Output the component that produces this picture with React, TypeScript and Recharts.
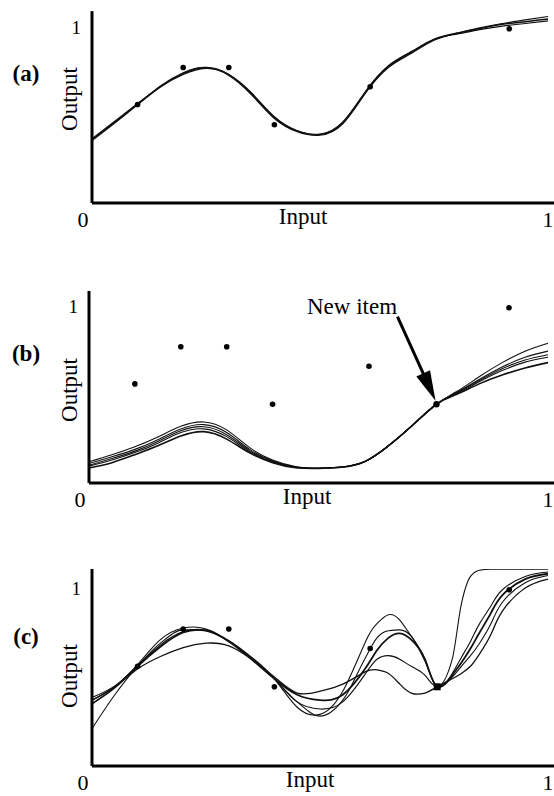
import React from 'react';
import {
  ComposedChart,
  Line,
  Scatter,
  XAxis,
  YAxis,
  ReferenceLine,
} from 'recharts';

// training items (same six in every panel)
const TRAIN_X = [0.1, 0.2, 0.3, 0.4, 0.61, 0.915];
const TRAIN_Y = [0.56, 0.77, 0.77, 0.445, 0.66, 0.99];

// the item learned afterwards
const NEW_ITEM_X = 0.757;
const NEW_ITEM_Y = 0.445;

// (a) nets trained on the original items
const GRID_A = [0, 0.05, 0.1, 0.15, 0.2, 0.25, 0.3, 0.35, 0.4, 0.45, 0.5, 0.55, 0.6, 0.65, 0.7, 0.75, 0.8, 0.85, 0.9, 0.95, 1];
const FIT_A1 = [0.36, 0.46, 0.56, 0.66, 0.735, 0.77, 0.73, 0.62, 0.485, 0.41, 0.39, 0.455, 0.63, 0.775, 0.855, 0.93, 0.965, 0.99, 1.015, 1.03, 1.045];
const FIT_A2 = [0.355, 0.455, 0.56, 0.665, 0.74, 0.77, 0.725, 0.615, 0.48, 0.405, 0.385, 0.45, 0.625, 0.77, 0.85, 0.925, 0.965, 0.995, 1.02, 1.04, 1.06];
const FIT_A3 = [0.365, 0.465, 0.565, 0.66, 0.73, 0.765, 0.73, 0.625, 0.49, 0.41, 0.39, 0.46, 0.635, 0.78, 0.86, 0.93, 0.96, 0.985, 1.005, 1.02, 1.035];

// (b) after training on the new item alone
const GRID_B = [0, 0.05, 0.1, 0.15, 0.2, 0.25, 0.3, 0.35, 0.4, 0.45, 0.5, 0.55, 0.6, 0.65, 0.7, 0.757, 0.8, 0.85, 0.9, 0.95, 1];
const FIT_B1 = [0.12, 0.16, 0.205, 0.26, 0.32, 0.345, 0.3, 0.2, 0.13, 0.093, 0.084, 0.09, 0.12, 0.205, 0.315, 0.445, 0.515, 0.6, 0.68, 0.745, 0.79];
const FIT_B2 = [0.11, 0.148, 0.19, 0.245, 0.305, 0.33, 0.285, 0.19, 0.125, 0.09, 0.083, 0.09, 0.12, 0.205, 0.315, 0.445, 0.51, 0.585, 0.655, 0.71, 0.745];
const FIT_B3 = [0.1, 0.138, 0.18, 0.235, 0.295, 0.318, 0.273, 0.183, 0.121, 0.089, 0.083, 0.09, 0.12, 0.205, 0.315, 0.445, 0.508, 0.578, 0.645, 0.695, 0.725];
const FIT_B4 = [0.095, 0.13, 0.172, 0.225, 0.285, 0.306, 0.262, 0.177, 0.118, 0.088, 0.082, 0.089, 0.12, 0.205, 0.315, 0.445, 0.505, 0.572, 0.635, 0.683, 0.71];
const FIT_B5 = [0.085, 0.115, 0.16, 0.21, 0.265, 0.29, 0.248, 0.17, 0.115, 0.086, 0.082, 0.089, 0.12, 0.205, 0.315, 0.445, 0.5, 0.56, 0.61, 0.65, 0.68];

// (c) new item learned together with pseudo-items
const GRID_C = [0, 0.05, 0.1, 0.15, 0.2, 0.25, 0.3, 0.35, 0.4, 0.45, 0.5, 0.55, 0.6, 0.625, 0.65, 0.675, 0.7, 0.73, 0.757, 0.79, 0.81, 0.83, 0.85, 0.875, 0.9, 0.95, 1];
const FIT_C1 = [0.385, 0.45, 0.57, 0.71, 0.775, 0.77, 0.7, 0.61, 0.49, 0.33, 0.29, 0.42, 0.7, 0.8, 0.85, 0.82, 0.73, 0.6, 0.445, 0.52, 0.61, 0.7, 0.8, 0.9, 0.99, 1.065, 1.09];
const FIT_C2 = [0.37, 0.445, 0.565, 0.69, 0.765, 0.765, 0.7, 0.605, 0.49, 0.36, 0.28, 0.37, 0.61, 0.72, 0.76, 0.765, 0.73, 0.59, 0.445, 0.6, 0.91, 1.065, 1.1, 1.105, 1.105, 1.105, 1.105];
const FIT_C3 = [0.21, 0.4, 0.56, 0.68, 0.755, 0.76, 0.705, 0.61, 0.49, 0.36, 0.32, 0.36, 0.52, 0.6, 0.62, 0.6, 0.56, 0.51, 0.445, 0.5, 0.56, 0.62, 0.69, 0.8, 0.92, 1.03, 1.07];
const FIT_C4 = [0.35, 0.44, 0.56, 0.67, 0.75, 0.76, 0.7, 0.6, 0.49, 0.4, 0.37, 0.4, 0.55, 0.65, 0.72, 0.745, 0.71, 0.6, 0.445, 0.51, 0.58, 0.66, 0.75, 0.86, 0.96, 1.05, 1.08];
const FIT_C5 = [0.37, 0.445, 0.545, 0.615, 0.665, 0.69, 0.675, 0.6, 0.5, 0.41, 0.42, 0.46, 0.53, 0.54, 0.52, 0.46, 0.41, 0.41, 0.445, 0.49, 0.52, 0.56, 0.63, 0.74, 0.87, 1.0, 1.05];

// arrow in (b), data units
const ARROW_FROM = { x: 0.672, y: 0.94 };
const ARROW_TO = { x: 0.755, y: 0.465 };

const FONT = '"Liberation Serif", "Times New Roman", serif';
const CHART_W = 570;
const CHART_H = 250;
const BASE = 203; // x-axis line, local to each panel
const Y_AXIS_W = 30;
const X_AXIS_H = 40;
const X_MAX = 1.03;

const toRows = (grid: number[], series: number[][]) =>
  grid.map((x, i) => {
    const row: Record<string, number> = { x };
    series.forEach((s, k) => {
      row[`s${k}`] = s[i];
    });
    return row;
  });

const trainPoints = TRAIN_X.map((x, i) => ({ x, y: TRAIN_Y[i] }));
const newPoint = [{ x: NEW_ITEM_X, y: NEW_ITEM_Y }];

const XTick = (props: any) => {
  const { x, y, payload } = props;
  return (
    <text
      x={payload.value === 0 ? x - 9 : x}
      y={y}
      dy="0.71em"
      textAnchor="middle"
      fontSize={22}
      fontFamily={FONT}
      fill="#000"
    >
      {payload.value}
    </text>
  );
};

const YTick = (props: any) => {
  const { x, y, payload } = props;
  return (
    <text x={x - 3} y={y} dy="0.35em" textAnchor="end" fontSize={19} fontFamily={FONT} fill="#000">
      {payload.value}
    </text>
  );
};

const roundDot = (props: any) => <circle cx={props.cx} cy={props.cy} r={2.8} fill="#000" />;
const bigDot = (props: any) => <circle cx={props.cx} cy={props.cy} r={3.2} fill="#000" />;
const squareDot = (props: any) => (
  <rect x={props.cx - 3.5} y={props.cy - 3.5} width={7} height={7} fill="#000" />
);

const Arrow = (props: any) => {
  const { x1, y1, x2, y2 } = props;
  const dx = x2 - x1;
  const dy = y2 - y1;
  const len = Math.hypot(dx, dy) || 1;
  const ux = dx / len;
  const uy = dy / len;
  const headLen = 30;
  const headW = 7.5;
  const bx = x2 - ux * headLen;
  const by = y2 - uy * headLen;
  return (
    <g>
      <line x1={x1} y1={y1} x2={bx + ux * 2} y2={by + uy * 2} stroke="#000" strokeWidth={3} />
      <polygon
        points={`${x2},${y2} ${bx - uy * headW},${by + ux * headW} ${bx + uy * headW},${by - ux * headW}`}
        fill="#000"
      />
    </g>
  );
};

interface PanelProps {
  tag: string;
  top: number;
  axisX: number;
  unitX: number;
  unitY: number;
  yMax: number;
  grid: number[];
  curves: number[][];
  widths: number[];
  curveTypes?: string[];
  inputX: number;
  outputY: number;
  newItem?: 'none' | 'dot' | 'square';
  arrow?: boolean;
}

function Panel({
  tag,
  top,
  axisX,
  unitX,
  unitY,
  yMax,
  grid,
  curves,
  widths,
  curveTypes,
  inputX,
  outputY,
  newItem = 'none',
  arrow = false,
}: PanelProps) {
  const rows = toRows(grid, curves);
  const margin = {
    top: BASE - unitY * yMax,
    left: axisX - Y_AXIS_W,
    right: CHART_W - axisX - unitX * X_MAX,
    bottom: CHART_H - BASE - X_AXIS_H,
  };

  return (
    <div style={{ position: 'absolute', left: 0, top }}>
      <ComposedChart width={CHART_W} height={CHART_H} data={rows} margin={margin}>
        <XAxis
          dataKey="x"
          type="number"
          domain={[0, X_MAX]}
          allowDataOverflow
          ticks={[0, 1]}
          interval={0}
          tick={<XTick />}
          tickLine={false}
          axisLine={{ stroke: '#000', strokeWidth: 3 }}
          height={X_AXIS_H}
        />
        <YAxis
          type="number"
          domain={[0, yMax]}
          allowDataOverflow
          ticks={[1]}
          tick={<YTick />}
          tickLine={false}
          axisLine={{ stroke: '#000', strokeWidth: 3 }}
          width={Y_AXIS_W}
        />
        {curves.map((_, k) => (
          <Line
            key={k}
            type={(curveTypes ? curveTypes[k] : 'natural') as any}
            dataKey={`s${k}`}
            stroke="#111"
            strokeWidth={widths[k]}
            dot={false}
            activeDot={false}
            isAnimationActive={false}
          />
        ))}
        <Scatter data={trainPoints} dataKey="y" shape={roundDot} isAnimationActive={false} />
        {newItem !== 'none' && (
          <Scatter
            data={newPoint}
            dataKey="y"
            shape={newItem === 'square' ? squareDot : bigDot}
            isAnimationActive={false}
          />
        )}
        {arrow && (
          <ReferenceLine
            segment={[ARROW_FROM, ARROW_TO]}
            ifOverflow="visible"
            shape={(p: any) => <Arrow {...p} />}
          />
        )}
        {arrow && (
          <text x={352} y={34} textAnchor="middle" fontSize={23} fontFamily={FONT} fill="#000">
            New item
          </text>
        )}
        <text x={26} y={81} textAnchor="middle" fontSize={23} fontWeight="bold" fontFamily={FONT} fill="#000">
          {tag}
        </text>
        <text
          transform={`translate(72, ${outputY}) rotate(-90)`}
          dy="0.22em"
          textAnchor="middle"
          fontSize={23}
          fontFamily={FONT}
          fill="#000"
        >
          Output
        </text>
        <text x={inputX} y={224} textAnchor="middle" fontSize={23} fontFamily={FONT} fill="#000">
          Input
        </text>
      </ComposedChart>
    </div>
  );
}

export default function App() {
  return (
    <div
      style={{
        position: 'absolute',
        left: 0,
        top: 0,
        width: 554,
        height: 796,
        overflow: 'hidden',
        background: '#fff',
        fontFamily: FONT,
      }}
    >
      <Panel
        tag="(a)"
        top={0}
        axisX={92}
        unitX={456}
        unitY={176}
        yMax={1.09}
        grid={GRID_A}
        curves={[FIT_A1, FIT_A2, FIT_A3]}
        widths={[1.5, 1.2, 1.2]}
        inputX={303}
        outputY={99}
      />
      <Panel
        tag="(b)"
        top={280}
        axisX={89}
        unitX={459}
        unitY={177}
        yMax={1.085}
        grid={GRID_B}
        curves={[FIT_B1, FIT_B2, FIT_B3, FIT_B4, FIT_B5]}
        widths={[1.1, 1.1, 1.1, 1.1, 1.6]}
        inputX={307}
        outputY={110}
        newItem="dot"
        arrow
      />
      <Panel
        tag="(c)"
        top={563}
        axisX={92}
        unitX={456}
        unitY={178}
        yMax={1.107}
        grid={GRID_C}
        curves={[FIT_C1, FIT_C2, FIT_C3, FIT_C4, FIT_C5]}
        curveTypes={['natural', 'monotone', 'natural', 'natural', 'natural']}
        widths={[1.1, 1.1, 1.1, 1.8, 1.3]}
        inputX={310}
        outputY={113}
        newItem="square"
      />
    </div>
  );
}
